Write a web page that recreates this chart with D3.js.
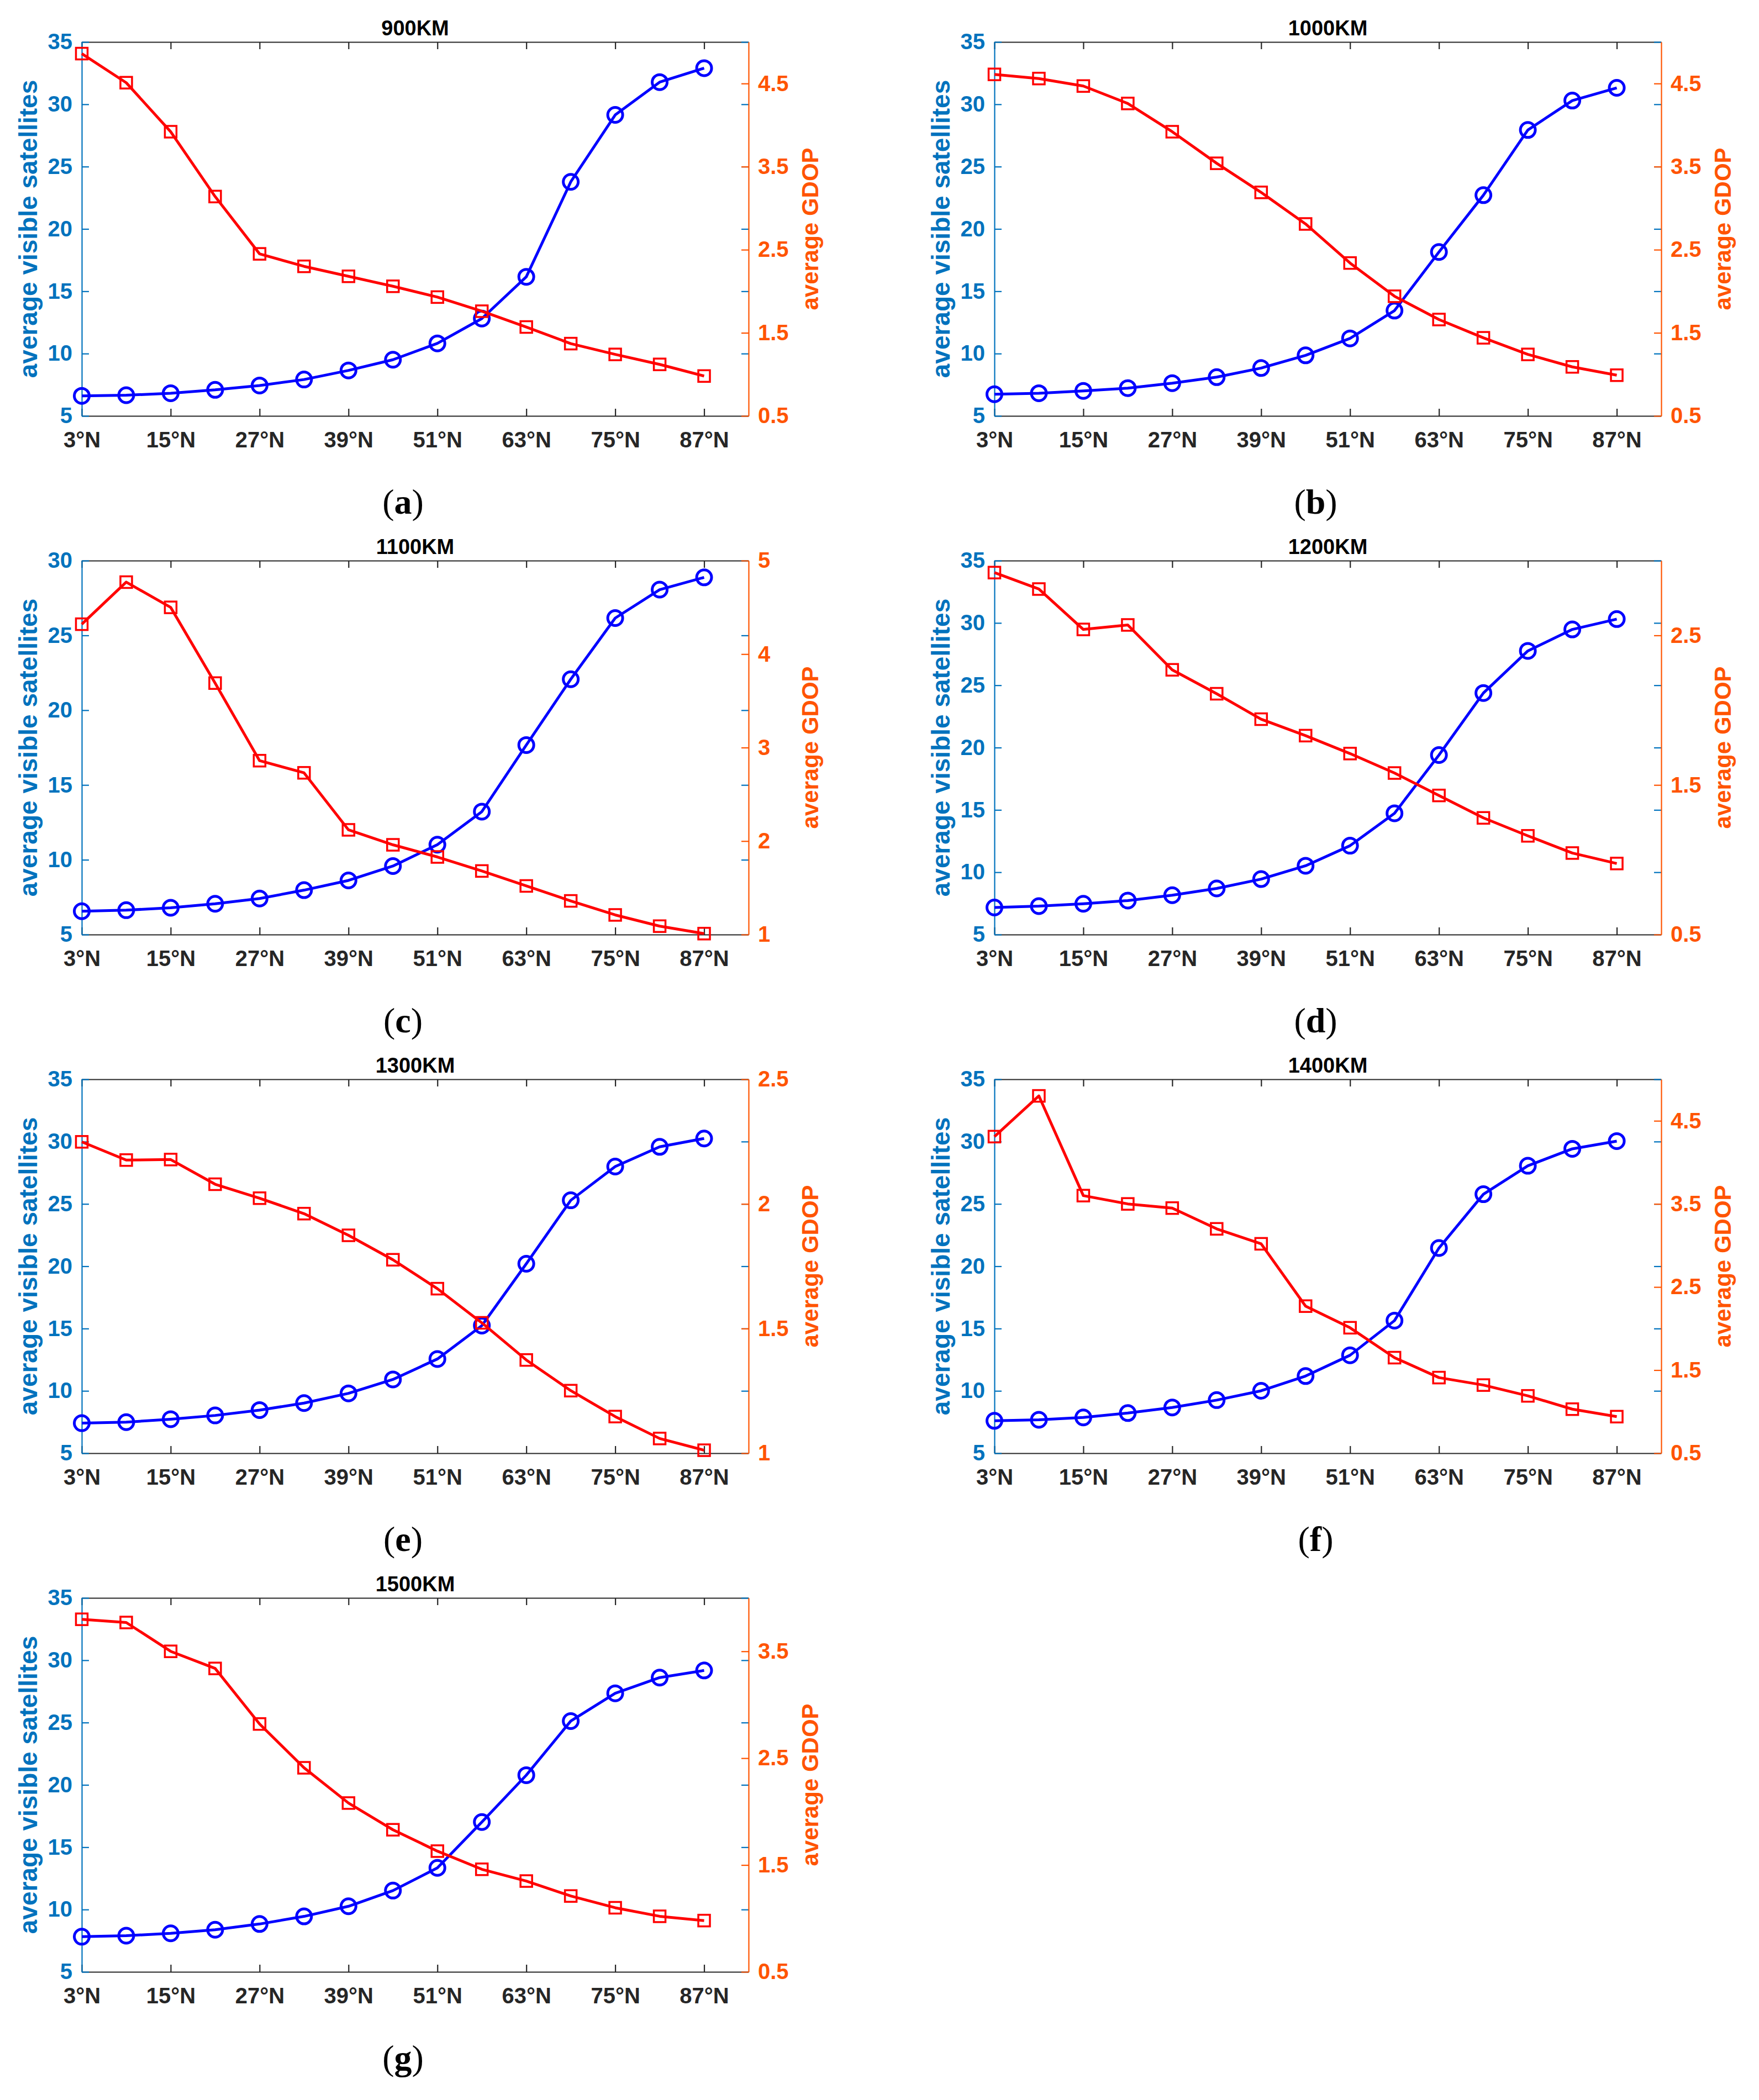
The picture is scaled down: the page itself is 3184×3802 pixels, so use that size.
<!DOCTYPE html>
<html>
<head>
<meta charset="utf-8">
<script src="https://cdn.jsdelivr.net/npm/d3@7"></script>
<style>
    body { margin: 0; background: #fff; }
</style>
</head>
<body>
<svg id="chart"></svg>
<script>
// latitude of each sample and the labelled ticks
const latitudes = [3, 9, 15, 21, 27, 33, 39, 45, 51, 57, 63, 69, 75, 81, 87];
const latTicks = [3, 15, 27, 39, 51, 63, 75, 87];

const titles = ['900KM', '1000KM', '1100KM', '1200KM', '1300KM', '1400KM', '1500KM'];
const letters = ['a', 'b', 'c', 'd', 'e', 'f', 'g'];

// average visible satellites (left axis)
const sat900 = [6.61, 6.66, 6.82, 7.09, 7.44, 7.92, 8.65, 9.51, 10.82, 12.81, 16.16, 23.78, 29.15, 31.78, 32.9];
const sat1000 = [6.74, 6.82, 7.01, 7.23, 7.63, 8.11, 8.84, 9.86, 11.22, 13.45, 18.15, 22.71, 27.94, 30.3, 31.32];
const sat1100 = [6.56, 6.63, 6.79, 7.06, 7.41, 7.97, 8.62, 9.58, 11.01, 13.22, 17.67, 22.07, 26.16, 28.06, 28.88];
const sat1200 = [7.17, 7.28, 7.47, 7.73, 8.16, 8.7, 9.45, 10.52, 12.13, 14.73, 19.4, 24.38, 27.76, 29.48, 30.31];
const sat1300 = [7.41, 7.49, 7.73, 8.03, 8.46, 9.02, 9.8, 10.92, 12.56, 15.24, 20.2, 25.29, 28.0, 29.58, 30.25];
const sat1400 = [7.6, 7.68, 7.87, 8.22, 8.67, 9.26, 10.01, 11.19, 12.86, 15.64, 21.46, 25.78, 28.06, 29.42, 30.04];
const sat1500 = [7.82, 7.9, 8.09, 8.38, 8.84, 9.45, 10.26, 11.52, 13.34, 17.02, 20.78, 25.12, 27.35, 28.61, 29.18];

// average GDOP (right axis)
const gdop900 = [4.86, 4.51, 3.92, 3.14, 2.45, 2.3, 2.18, 2.06, 1.93, 1.76, 1.57, 1.37, 1.24, 1.12, 0.98];
const gdop1000 = [4.61, 4.56, 4.47, 4.26, 3.92, 3.54, 3.19, 2.81, 2.34, 1.94, 1.66, 1.44, 1.24, 1.09, 0.99];
const gdop1100 = [4.32, 4.77, 4.5, 3.69, 2.86, 2.73, 2.12, 1.96, 1.83, 1.68, 1.52, 1.36, 1.21, 1.09, 1.01];
const gdop1200 = [2.92, 2.81, 2.54, 2.57, 2.27, 2.11, 1.94, 1.83, 1.71, 1.58, 1.43, 1.28, 1.16, 1.045, 0.975];
const gdop1300 = [2.249, 2.176, 2.178, 2.079, 2.023, 1.961, 1.874, 1.776, 1.66, 1.523, 1.374, 1.251, 1.147, 1.059, 1.012];
const gdop1400 = [4.31, 4.8, 3.6, 3.5, 3.45, 3.2, 3.02, 2.27, 2.01, 1.65, 1.41, 1.32, 1.19, 1.03, 0.94];
const gdop1500 = [3.8, 3.77, 3.5, 3.34, 2.82, 2.41, 2.08, 1.83, 1.63, 1.46, 1.35, 1.21, 1.1, 1.02, 0.98];

// axis ranges and ticks per panel
const satDomains = [[5, 35], [5, 35], [5, 30], [5, 35], [5, 35], [5, 35], [5, 35]];
const satTicks = [
    [5, 10, 15, 20, 25, 30, 35], [5, 10, 15, 20, 25, 30, 35], [5, 10, 15, 20, 25, 30],
    [5, 10, 15, 20, 25, 30, 35], [5, 10, 15, 20, 25, 30, 35], [5, 10, 15, 20, 25, 30, 35],
    [5, 10, 15, 20, 25, 30, 35],
];
const gdopDomains = [[0.5, 5], [0.5, 5], [1, 5], [0.5, 3], [1, 2.5], [0.5, 5], [0.5, 4]];
const gdopTicks = [
    [0.5, 1.5, 2.5, 3.5, 4.5], [0.5, 1.5, 2.5, 3.5, 4.5], [1, 2, 3, 4, 5],
    [0.5, 1.5, 2.5], [1, 1.5, 2, 2.5], [0.5, 1.5, 2.5, 3.5, 4.5], [0.5, 1.5, 2.5, 3.5],
];

const satSeries = [sat900, sat1000, sat1100, sat1200, sat1300, sat1400, sat1500];
const gdopSeries = [gdop900, gdop1000, gdop1100, gdop1200, gdop1300, gdop1400, gdop1500];

const W = 3184;
const H = 3802;
const colX = [148, 1800];
const top0 = 76;
const rowPitch = 939;
const plotW = 1207;
const plotH = 677;
const tick = 13;

const sansFont = '"Liberation Sans", Arial, sans-serif';
const serifFont = '"Liberation Serif", "Times New Roman", serif';
const blueAxis = '#0072bd';
const orangeAxis = '#ff5400';
const darkAxis = '#262626';

const svg = d3.select('#chart').attr('width', W).attr('height', H);

function styleAxis(g, color, fontSize) {
    g.selectAll('path.domain').attr('stroke', color).attr('stroke-width', 2.2);
    g.selectAll('.tick line').attr('stroke', color).attr('stroke-width', 2.2);
    g.selectAll('.tick text')
        .attr('fill', color)
        .style('font-size', `${fontSize}px`)
        .style('font-weight', 'bold')
        .style('font-family', sansFont);
}

function renderPanel(i) {
    const left = colX[i % 2];
    const top = top0 + Math.floor(i / 2) * rowPitch;

    const g = svg.append('g')
        .attr('class', 'panel')
        .attr('transform', `translate(${left},${top})`);

    const x = d3.scaleLinear().domain([3, 93]).range([0, plotW]);
    const yL = d3.scaleLinear().domain(satDomains[i]).range([plotH, 0]);
    const yR = d3.scaleLinear().domain(gdopDomains[i]).range([plotH, 0]);

    // top axis (mirrored ticks, no labels)
    g.append('g')
        .call(d3.axisTop(x).tickValues(latTicks).tickSize(-tick).tickSizeOuter(0).tickFormat(''))
        .call(styleAxis, darkAxis, 40);

    // bottom axis
    g.append('g')
        .attr('transform', `translate(0,${plotH})`)
        .call(d3.axisBottom(x).tickValues(latTicks).tickSize(-tick).tickSizeOuter(0)
            .tickPadding(29).tickFormat(d => `${d}°N`))
        .call(styleAxis, darkAxis, 40);

    // blue ticks mirrored on the right side
    const mirror = g.append('g')
        .attr('transform', `translate(${plotW},0)`)
        .call(d3.axisRight(yL).tickValues(satTicks[i]).tickSize(-tick).tickSizeOuter(0).tickFormat(''))
        .call(styleAxis, blueAxis, 40);
    mirror.select('path.domain').remove();

    // right axis (GDOP)
    g.append('g')
        .attr('transform', `translate(${plotW},0)`)
        .call(d3.axisRight(yR).tickValues(gdopTicks[i]).tickSize(-tick).tickSizeOuter(0)
            .tickPadding(17).tickFormat(d => String(d)))
        .call(styleAxis, orangeAxis, 40);

    // left axis (visible satellites)
    g.append('g')
        .call(d3.axisLeft(yL).tickValues(satTicks[i]).tickSize(-tick).tickSizeOuter(0)
            .tickPadding(17).tickFormat(d => String(d)))
        .call(styleAxis, blueAxis, 40);

    // satellites line + circles
    const satData = latitudes.map((lat, k) => ({ lat, v: satSeries[i][k] }));
    g.append('path')
        .datum(satData)
        .attr('fill', 'none')
        .attr('stroke', '#0000ff')
        .attr('stroke-width', 5)
        .attr('stroke-linejoin', 'round')
        .attr('d', d3.line().x(d => x(d.lat)).y(d => yL(d.v)));
    g.append('g').selectAll('circle')
        .data(satData)
        .join('circle')
        .attr('cx', d => x(d.lat))
        .attr('cy', d => yL(d.v))
        .attr('r', 13.5)
        .attr('fill', 'none')
        .attr('stroke', '#0000ff')
        .attr('stroke-width', 5);

    // GDOP line + squares
    const gdopData = latitudes.map((lat, k) => ({ lat, v: gdopSeries[i][k] }));
    g.append('path')
        .datum(gdopData)
        .attr('fill', 'none')
        .attr('stroke', '#ff0000')
        .attr('stroke-width', 5)
        .attr('stroke-linejoin', 'round')
        .attr('d', d3.line().x(d => x(d.lat)).y(d => yR(d.v)));
    const sq = 21;
    g.append('g').selectAll('rect')
        .data(gdopData)
        .join('rect')
        .attr('x', d => x(d.lat) - sq / 2)
        .attr('y', d => yR(d.v) - sq / 2)
        .attr('width', sq)
        .attr('height', sq)
        .attr('fill', 'none')
        .attr('stroke', '#ff0000')
        .attr('stroke-width', 3.5);

    // title
    g.append('text')
        .attr('x', plotW / 2)
        .attr('y', -12)
        .attr('text-anchor', 'middle')
        .style('font-family', sansFont)
        .style('font-size', '38px')
        .style('font-weight', 'bold')
        .attr('fill', '#000')
        .text(titles[i]);

    // axis labels
    g.append('text')
        .attr('transform', `translate(-97,${plotH / 2}) rotate(-90)`)
        .attr('dy', '0.35em')
        .attr('text-anchor', 'middle')
        .style('font-family', sansFont)
        .style('font-size', '46px')
        .style('font-weight', 'bold')
        .attr('fill', blueAxis)
        .text('average visible satellites');

    g.append('text')
        .attr('transform', `translate(${plotW + 111},${plotH / 2}) rotate(-90)`)
        .attr('dy', '0.35em')
        .attr('text-anchor', 'middle')
        .style('font-family', sansFont)
        .style('font-size', '42px')
        .style('font-weight', 'bold')
        .attr('fill', orangeAxis)
        .text('average GDOP');

    // panel letter
    const lab = g.append('text')
        .attr('x', plotW / 2 - 22)
        .attr('y', 854)
        .attr('text-anchor', 'middle')
        .style('font-family', serifFont)
        .style('font-size', '64px')
        .attr('fill', '#000');
    lab.append('tspan').text('(');
    lab.append('tspan').style('font-weight', 'bold').text(letters[i]);
    lab.append('tspan').text(')');
}

d3.range(titles.length).forEach(renderPanel);
</script>
</body>
</html>
